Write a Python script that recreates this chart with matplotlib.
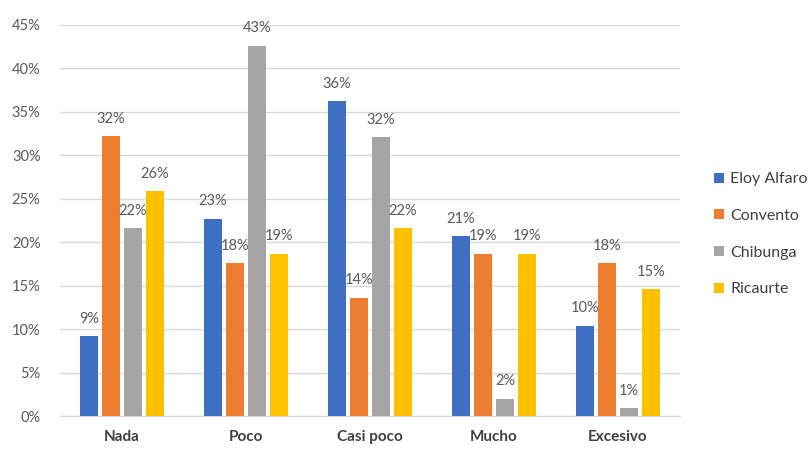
import matplotlib
matplotlib.use("Agg")
import matplotlib.pyplot as plt
import numpy as np

categories = ["Nada", "Poco", "Casi poco", "Mucho", "Excesivo"]
series = ["Eloy Alfaro", "Convento", "Chibunga", "Ricaurte"]
eloy_alfaro = [9.2, 22.7, 36.2, 20.7, 10.4]
convento = [32.2, 17.6, 13.6, 18.7, 17.6]
chibunga = [21.6, 42.6, 32.1, 2.0, 0.9]
ricaurte = [25.9, 18.7, 21.6, 18.7, 14.6]
values = [eloy_alfaro, convento, chibunga, ricaurte]
colors = ["#3F6FC2", "#ED7D31", "#A5A5A5", "#FFC000"]
yticks = [0, 5, 10, 15, 20, 25, 30, 35, 40, 45]

plt.rcParams['font.family'] = ['Lato', 'DejaVu Sans']

fig = plt.figure(figsize=(8.09, 4.49), dpi=100)
ax = fig.add_axes([60/809, 33/449, 620/809, 391/449])

x = np.arange(len(categories))
stride = 0.177
width = 0.145
for i, (name, vals, c) in enumerate(zip(series, values, colors)):
    pos = x + (i - 1.5) * stride
    bars = ax.bar(pos, vals, width=width, color=c, label=name, zorder=3)
    for b, v in zip(bars, vals):
        ax.text(b.get_x() + b.get_width()/2, v + 1.2, f"{round(v):d}%",
                ha="center", va="bottom", fontsize=10.5, color="#595959", zorder=4)

ax.set_xlim(-0.5, len(categories) - 0.5)
ax.set_ylim(0, 45)
ax.set_yticks(yticks)
ax.set_yticklabels([f"{t}%" for t in yticks], fontsize=10.5, color="#595959")
ax.set_xticks(x)
ax.set_xticklabels(categories, fontsize=11, fontweight="bold", color="#404040")
ax.tick_params(axis="both", length=0)
ax.tick_params(axis="x", pad=10)
ax.tick_params(axis="y", pad=14)
ax.grid(axis="y", color="#D9D9D9", linewidth=1, zorder=0)
for s in ["top", "right", "left"]:
    ax.spines[s].set_visible(False)
ax.spines["bottom"].set_color("#D9D9D9")

handles, labels = ax.get_legend_handles_labels()
fig.legend(handles, labels, loc="upper left", bbox_to_anchor=(700/809, 1 - 158/449),
           frameon=False, fontsize=11.5, labelcolor="#404040", handlelength=0.6,
           handleheight=0.6, handletextpad=0.4, labelspacing=1.42)

fig.savefig("out.png", dpi=100)
